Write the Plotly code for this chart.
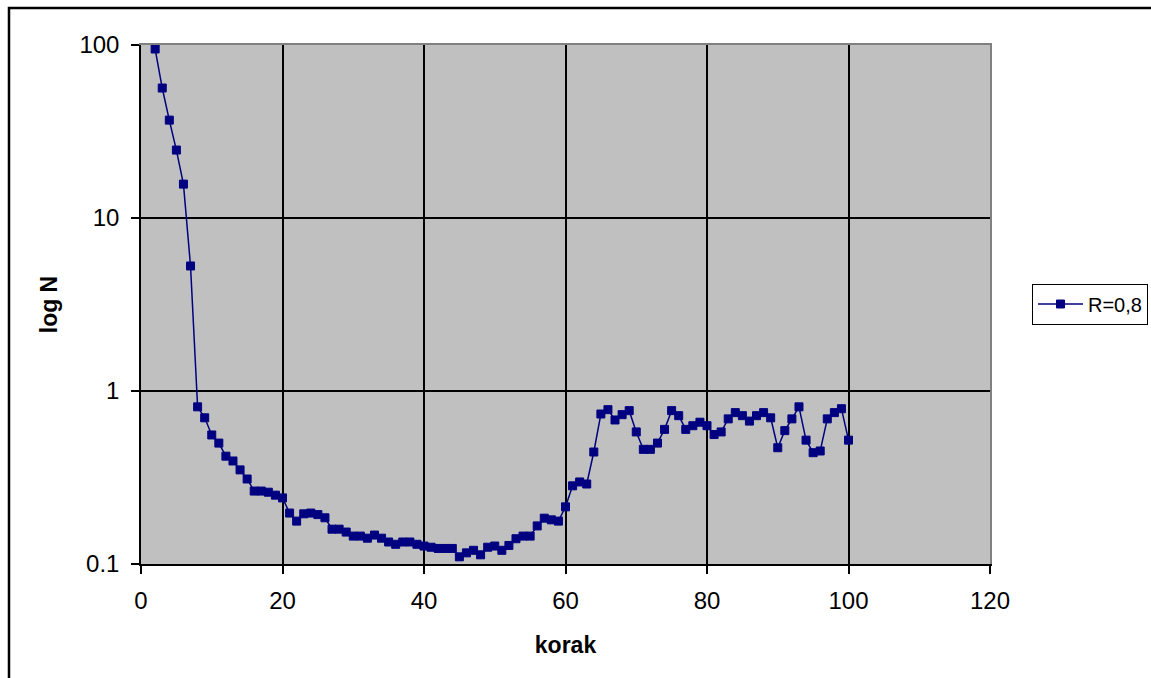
import plotly.graph_objects as go

korak = list(range(2, 101))
log_n = [
    94.8, 56.4, 36.8, 24.7, 15.7, 5.28, 0.81, 0.70, 0.557, 0.50,
    0.42, 0.394, 0.35, 0.31, 0.264, 0.264, 0.26, 0.25, 0.241, 0.197,
    0.177, 0.195, 0.197, 0.193, 0.185, 0.159, 0.159, 0.153, 0.145, 0.145,
    0.141, 0.147, 0.141, 0.134, 0.130, 0.134, 0.134, 0.130, 0.127, 0.125,
    0.123, 0.123, 0.123, 0.110, 0.116, 0.120, 0.113, 0.125, 0.127, 0.120,
    0.128, 0.140, 0.145, 0.145, 0.166, 0.184, 0.180, 0.177, 0.214, 0.283,
    0.298, 0.290, 0.444, 0.736, 0.78, 0.68, 0.73, 0.77, 0.58, 0.46,
    0.46, 0.50, 0.60, 0.77, 0.72, 0.60, 0.63, 0.66, 0.63, 0.56,
    0.58, 0.69, 0.75, 0.72, 0.67, 0.72, 0.75, 0.70, 0.47, 0.59,
    0.69, 0.81, 0.52, 0.44, 0.45, 0.69, 0.75, 0.79, 0.52,
]
series_name = "R=0,8"
x_ticks = [0, 20, 40, 60, 80, 100, 120]
y_ticks = [0.1, 1, 10, 100]
y_tick_text = ["0.1", "1", "10", "100"]

FONT = "Liberation Sans, Arial, sans-serif"
NAVY = "#000080"
GREY = "#808080"

fig = go.Figure()
fig.add_trace(go.Scatter(
    x=korak, y=log_n, name=series_name, mode="lines+markers",
    line=dict(color=NAVY, width=1.5),
    marker=dict(symbol="square", size=8, color=NAVY,
                line=dict(color=NAVY, width=1)),
))
# invisible helper trace to carry the grey top/right frame axes
fig.add_trace(go.Scatter(
    x=[None], y=[None], xaxis="x2", yaxis="y2", showlegend=False,
    hoverinfo="skip",
))

L, T, W, H = 141, 45, 849, 519
fig.update_layout(
    width=1151, height=678,
    margin=dict(l=L, r=1151 - L - W, t=T, b=678 - T - H, autoexpand=False),
    paper_bgcolor="white",
    plot_bgcolor="#C0C0C0",
    font=dict(family=FONT, color="black", size=24),
    showlegend=True,
    legend=dict(
        x=(1032 - L) / W, xanchor="left",
        y=(564 - 304) / H, yanchor="middle",
        bordercolor="black", borderwidth=1, bgcolor="white",
        font=dict(size=20, family=FONT), itemwidth=45,
    ),
    xaxis=dict(
        range=[0, 120], tickvals=x_ticks, ticktext=[str(v) for v in x_ticks],
        showgrid=True, gridcolor="black", gridwidth=1.5,
        showline=True, linecolor="black", linewidth=1.5,
        ticks="outside", ticklen=8, tickcolor="black", tickwidth=1.5,
        ticklabelstandoff=6, zeroline=False,
        title=dict(text="<b>korak</b>", font=dict(size=23, family=FONT), standoff=24),
    ),
    yaxis=dict(
        type="log", range=[-1, 2], tickvals=y_ticks, ticktext=y_tick_text,
        showgrid=True, gridcolor="black", gridwidth=1.5,
        showline=True, linecolor="black", linewidth=1.5,
        ticks="outside", ticklen=8, tickcolor="black", tickwidth=1.5,
        ticklabelstandoff=7, zeroline=False,
        title=dict(text="<b>log N</b>", font=dict(size=23, family=FONT), standoff=15),
    ),
    xaxis2=dict(
        overlaying="x", side="top", range=[0, 120], showgrid=False,
        showline=True, linecolor=GREY, linewidth=2, showticklabels=False,
        ticks="", zeroline=False,
    ),
    yaxis2=dict(
        overlaying="y", side="right", type="log", range=[-1, 2], showgrid=False,
        showline=True, linecolor=GREY, linewidth=2, showticklabels=False,
        ticks="", zeroline=False,
    ),
    shapes=[
        dict(type="rect", xref="paper", yref="paper",
             x0=(9 - L) / W, x1=(1250 - L) / W,
             y0=(564 - 800) / H, y1=(564 - 8) / H,
             line=dict(color="black", width=2.5), layer="above"),
    ],
)

fig.write_html(
    "out.html",
    config={"displayModeBar": False},
    post_script="document.body.style.margin='0px';document.body.style.overflow='hidden';",
)
